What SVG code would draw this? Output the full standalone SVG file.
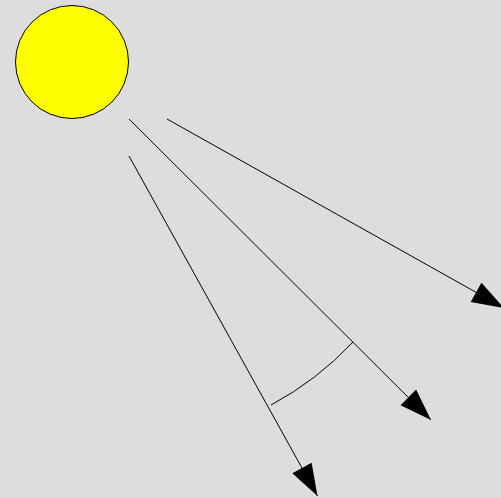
<svg xmlns="http://www.w3.org/2000/svg" width="501" height="498" viewBox="0 0 501 498">
<style>
.ray{stroke:#000;stroke-width:1;fill:none;marker-end:url(#ah)}
</style>
<defs>
<marker id="ah" markerUnits="userSpaceOnUse" markerWidth="40" markerHeight="30" viewBox="-34 -15 36 30" refX="0" refY="0" orient="auto">
<path d="M0,0 L-32,-11 L-32,11 z" fill="#000"/>
</marker>
</defs>
<rect width="501" height="498" fill="#dddddd"/>
<g id="sun">
<circle cx="72" cy="62" r="56.5" fill="#ffff00" stroke="#000" stroke-width="1"/>
</g>
<g id="connectors">
<line class="ray" x1="167" y1="119" x2="504" y2="308"/>
<line class="ray" x1="129" y1="119" x2="431" y2="420"/>
<line class="ray" x1="129" y1="156" x2="317.5" y2="496"/>
<path d="M271,405 A317,317 0 0 0 353,342" fill="none" stroke="#000" stroke-width="1"/>
</g>
</svg>
